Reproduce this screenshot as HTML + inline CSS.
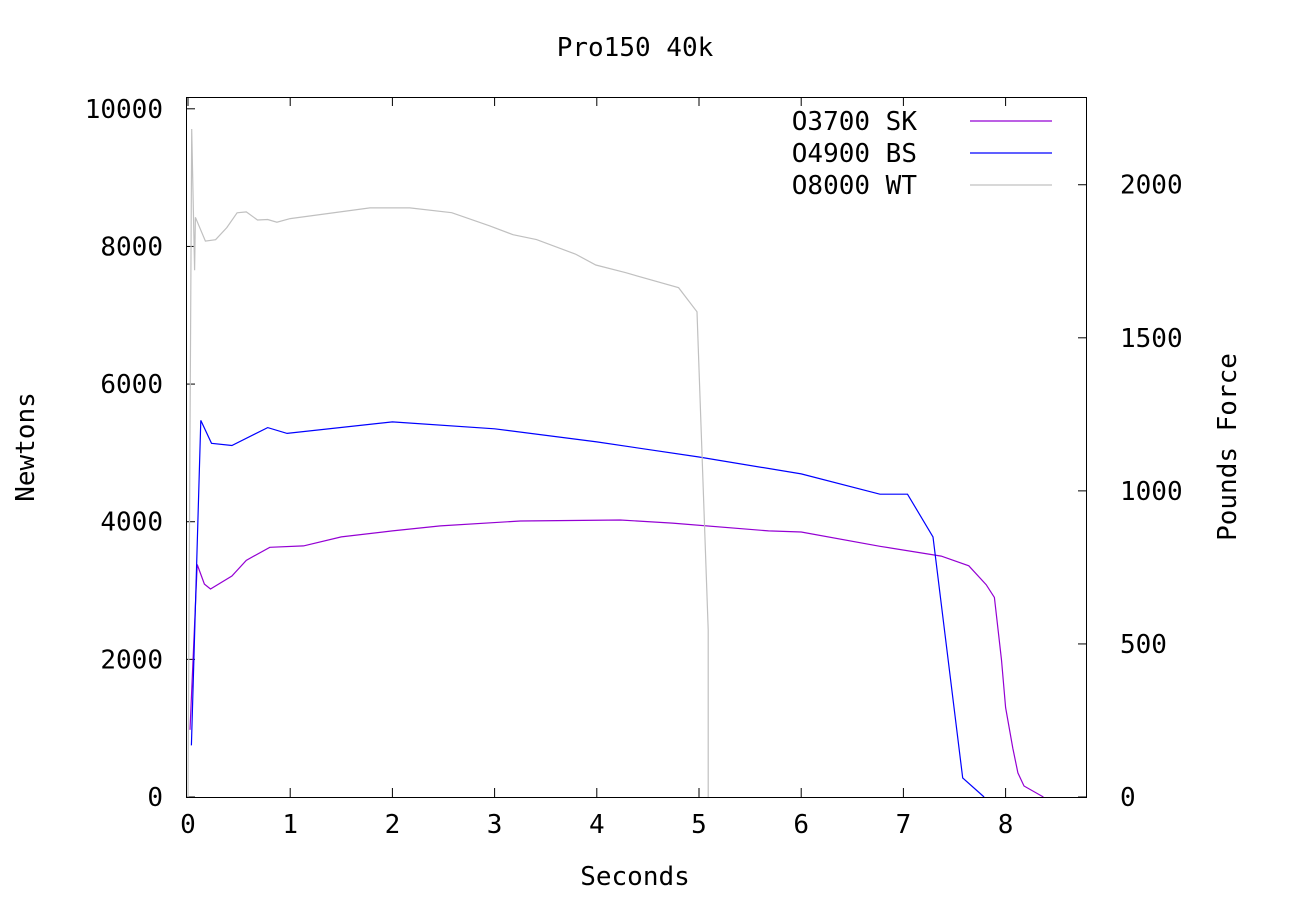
<!DOCTYPE html>
<html><head><meta charset="utf-8">
<style>
html,body{margin:0;padding:0;background:#fff;}
svg text{font-family:"DejaVu Sans Mono","Liberation Mono",monospace;font-size:26px;fill:#000;}
</style></head>
<body>
<svg id="chart" width="1300" height="900" xmlns="http://www.w3.org/2000/svg">
<rect x="0" y="0" width="1300" height="900" fill="#fff"/>
<text x="635" y="56" text-anchor="middle">Pro150 40k</text>
<text x="635" y="885" text-anchor="middle">Seconds</text>
<text transform="translate(34,447) rotate(-90)" text-anchor="middle">Newtons</text>
<text transform="translate(1236,447) rotate(-90)" text-anchor="middle">Pounds Force</text>
<g id="axes"></g>
<g id="series"></g>
<rect x="186.5" y="97.5" width="900" height="700" fill="none" stroke="#000" stroke-width="1"/>
<g id="legend"></g>
</svg>
<script>
const xTicks = [0,1,2,3,4,5,6,7,8];
const yTicks = [0,2000,4000,6000,8000,10000];
const y2Ticks = [0,500,1000,1500,2000];
const seriesNames = ["O3700 SK","O4900 BS","O8000 WT"];
const skTime = [0.02,0.09,0.16,0.22,0.43,0.57,0.8,1.13,1.5,2.0,2.47,3.25,4.23,4.74,5.68,6.0,6.77,7.37,7.64,7.81,7.89,7.96,8.0,8.07,8.12,8.18,8.37];
const skForce = [977,3378,3094,3022,3211,3440,3628,3648,3780,3866,3939,4010,4025,3980,3866,3850,3643,3500,3360,3085,2900,1990,1300,710,350,160,0];
const bsTime = [0.033,0.125,0.23,0.43,0.78,0.97,2.0,3.0,4.0,5.0,6.0,6.77,7.04,7.29,7.58,7.79];
const bsForce = [750,5472,5140,5107,5368,5283,5450,5350,5160,4940,4695,4400,4400,3780,276,0];
const wtTime = [0.0,0.036,0.065,0.072,0.17,0.27,0.38,0.48,0.57,0.68,0.78,0.87,1.0,1.78,2.17,2.58,2.95,3.18,3.41,3.79,3.99,4.28,4.8,4.98,5.09,5.09];
const wtForce = [0,9707,7655,8424,8078,8098,8274,8489,8502,8384,8391,8352,8404,8560,8560,8490,8300,8170,8100,7890,7730,7620,7400,7050,2430,0];
const colors = ["#9400d3","#0000ff","#c0c0c0"];
const legendColors = ["#9400d3","#0000ff","#c0c0c0"];

const NS="http://www.w3.org/2000/svg";
function xs(t){return 188 + t*102.2;}
function ys(n){return 797 - n*0.06882;}
function y2s(lb){return ys(lb*4.44822);}
function mk(tag,attrs,parent){const e=document.createElementNS(NS,tag);for(const k in attrs)e.setAttribute(k,attrs[k]);parent.appendChild(e);return e;}
const axes=document.getElementById('axes');
xTicks.forEach(t=>{
  const x=xs(t);
  const l1=mk('line',{x1:x,x2:x,y1:797,y2:788,stroke:'#000'},axes);
  
  
  const l2=mk('line',{x1:x,x2:x,y1:97,y2:106,stroke:'#000'},axes);
  
  
  const tx=mk('text',{x:x,y:833,'text-anchor':'middle'},axes);
  tx.textContent=t;
  
  
});
yTicks.forEach(v=>{
  const y=ys(v);
  const l=mk('line',{x1:186,x2:195,y1:y,y2:y,stroke:'#000'},axes);
  
  
  const tx=mk('text',{x:163,y:y+9,'text-anchor':'end'},axes);
  tx.textContent=v;
  
  
});
y2Ticks.forEach(v=>{
  const y=y2s(v);
  const l=mk('line',{x1:1087,x2:1078,y1:y,y2:y,stroke:'#000'},axes);
  
  
  const tx=mk('text',{x:1120,y:y+9,'text-anchor':'start'},axes);
  tx.textContent=v;
  
  
});
const ser=document.getElementById('series');
const all=[[skTime,skForce],[bsTime,bsForce],[wtTime,wtForce]];
const snames=['series-sk','series-bs','series-wt'];
all.forEach((s,i)=>{
  const pts=s[0].map((t,j)=>xs(t).toFixed(1)+','+ys(s[1][j]).toFixed(1)).join(' ');
  const p=mk('polyline',{points:pts,fill:'none',stroke:colors[i],'stroke-width':1.2},ser);
  
  
});
const lg=document.getElementById('legend');
seriesNames.forEach((n,i)=>{
  const y=121+i*32;
  const tx=mk('text',{x:917,y:y+9,'text-anchor':'end'},lg);
  tx.textContent=n;
  
  
  const l=mk('line',{x1:970,x2:1052,y1:y,y2:y,stroke:legendColors[i],'stroke-width':1.2},lg);
  
  
});
</script>
</body></html>
